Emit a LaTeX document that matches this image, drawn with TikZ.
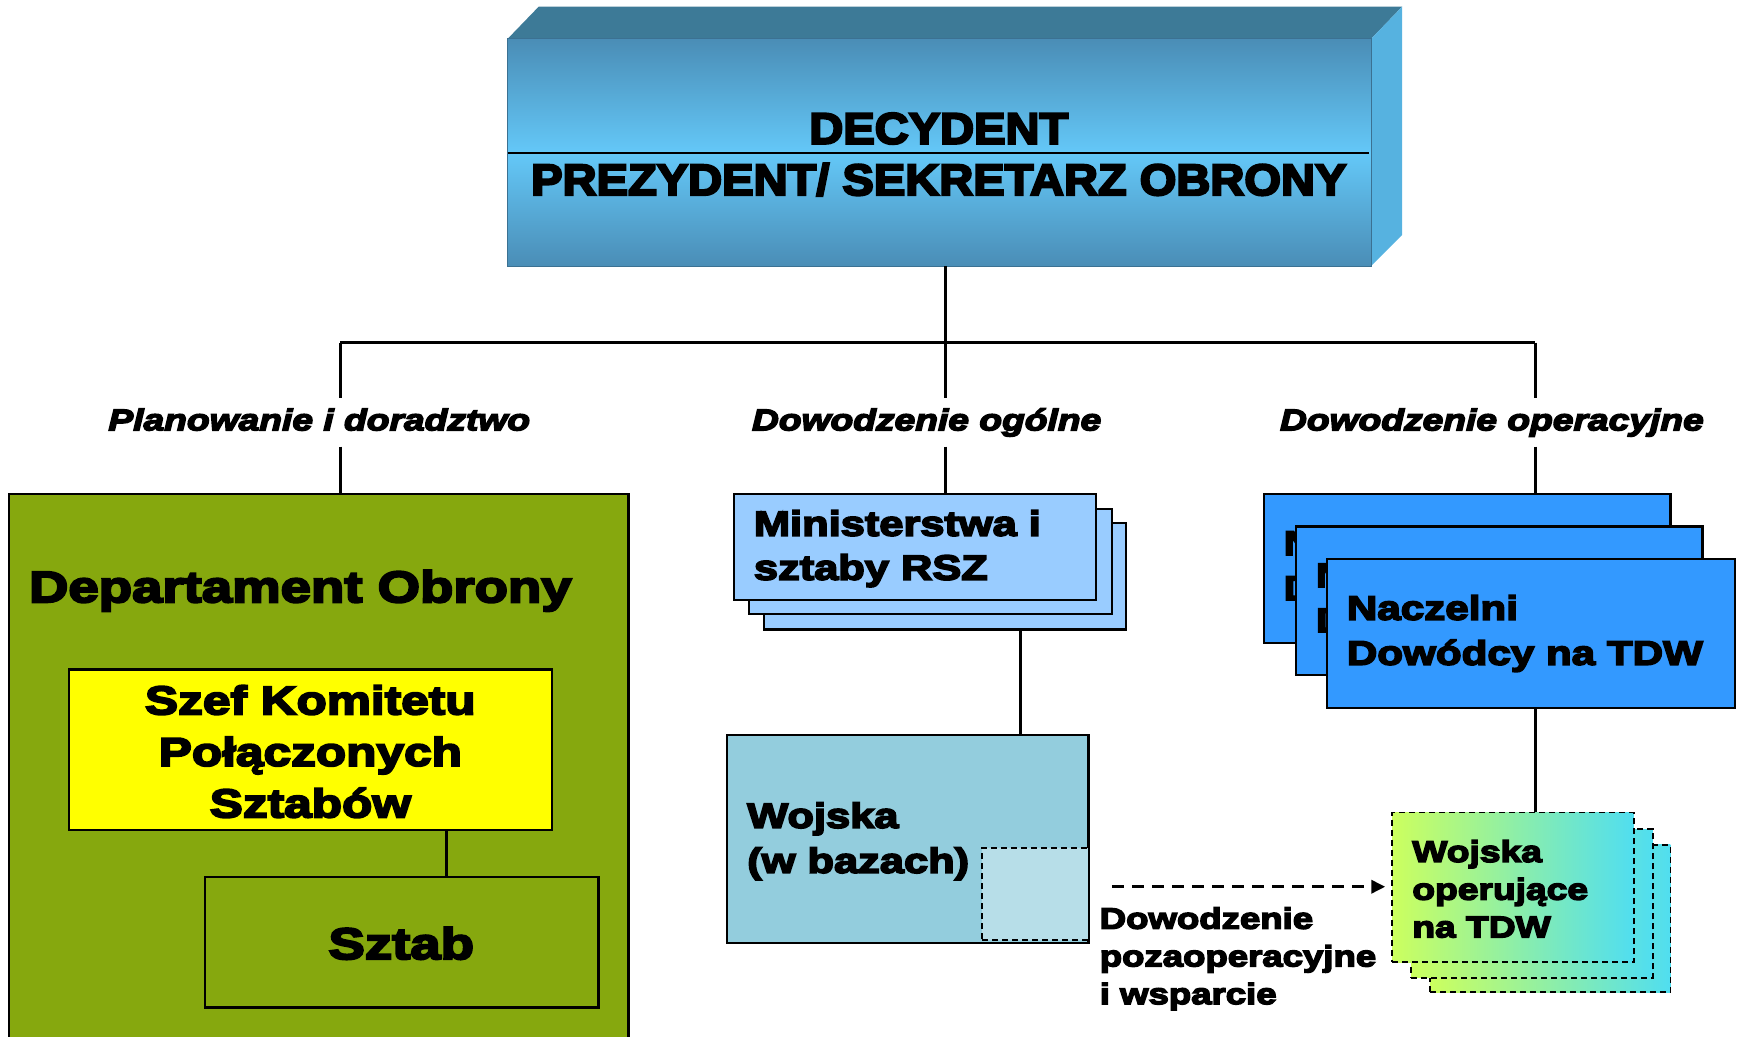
\documentclass[tikz,border=0pt]{standalone}
\usepackage{fontspec}
\setmainfont{Liberation Sans}
\newfontfamily\blk{Liberation Sans}[FakeStretch=1.24, BoldFeatures={FakeBold=5}, BoldItalicFeatures={FakeBold=5}]
\newfontfamily\cnd{Liberation Sans}[FakeStretch=1.07, BoldFeatures={FakeBold=5}]
\usetikzlibrary{fit,arrows.meta}
\definecolor{topface}{HTML}{3D7A97}
\definecolor{frontdark}{HTML}{4A8DB6}
\definecolor{frontlight}{HTML}{64C8F8}
\definecolor{sideface}{HTML}{56B2E0}
\definecolor{deptgreen}{HTML}{86A80E}
\definecolor{szefyellow}{HTML}{FFFF00}
\definecolor{minblue}{HTML}{99CCFF}
\definecolor{wojblue}{HTML}{93CDDD}
\definecolor{wojinner}{HTML}{B7DEE8}
\definecolor{naczblue}{HTML}{3399FF}
\definecolor{opleft}{HTML}{CCFF5E}
\definecolor{opright}{HTML}{50DEF0}
\begin{document}
\begin{tikzpicture}[x=1.1084pt,y=-1.1084pt,
  box/.style={draw=black, line width=2.2pt, inner sep=0pt},
  opbox/.style={draw=black, line width=1.8pt, dash pattern=on 6pt off 4pt, inner sep=0pt, left color=opleft, right color=opright},
  conn/.style={line width=3.2pt},
  lbl/.style={font=\blk\bfseries\itshape\fontsize{30}{36}\selectfont, inner xsep=0pt, inner ysep=10pt, text height=22pt, text depth=6pt},
  txt/.style={inner sep=0pt, align=left, anchor=west},
  ctxt/.style={inner sep=0pt, align=center}
]
\useasboundingbox (0,0) rectangle (1568,935);

% ---- top 3D box ----
\fill[topface] (458,35) -- (486,6) -- (1265,6) -- (1237,35) -- cycle;
\fill[sideface] (1237,35) -- (1265,6) -- (1265,212) -- (1237,240) -- cycle;
\shade[top color=frontdark, bottom color=frontlight] (458,35) rectangle (1237,138);
\shade[top color=frontlight, bottom color=frontdark] (458,138) rectangle (1237,240);
\node[inner sep=0pt, draw=frontdark!80!black, line width=0.8pt, fit={(458,35)(1237,240)}] (dec) {};
\draw[line width=1.8pt] (458,138) -- (1235,138);
\node[ctxt, font=\cnd\bfseries\fontsize{44}{50}\selectfont] (decT) at (847,116) {DECYDENT};
\node[ctxt, font=\cnd\bfseries\fontsize{44}{50}\selectfont] (prezT) at (847,162) {PREZYDENT/ SEKRETARZ OBRONY};

% ---- connectors, junctions ----
\coordinate (j) at (853,309);
\coordinate (jl) at (307,309);
\coordinate (jr) at (1385,309);
\draw[conn] (dec.south -| j) -- (j);
\draw[conn] (jl) -- (jr);
\node[lbl] (l1) at (288,381) {Planowanie i doradztwo};
\node[lbl] (l2) at (836,381) {Dowodzenie ogólne};
\node[lbl] (l3) at (1346,381) {Dowodzenie operacyjne};

% ---- left: Departament Obrony ----
\node[box, fill=deptgreen, fit={(8,446)(567,960)}] (dep) {};
\node[txt, font=\blk\bfseries\fontsize{44}{50}\selectfont] (depT) at (26,533) {Departament Obrony};
\node[box, fill=szefyellow, fit={(62,604)(498,749)}] (szef) {};
\node[ctxt, font=\blk\bfseries\fontsize{40}{51.5}\selectfont] (szefT) at (280,678) {Szef Komitetu\\Połączonych\\Sztabów};
\node[box, fit={(185,791)(540,909)}] (sztab) {};
\node[ctxt, font=\blk\bfseries\fontsize{44}{50}\selectfont] (sztabT) at (362,851) {Sztab};
\coordinate (cs) at (403,770);
\draw[conn] (szef.south -| cs) -- (sztab.north -| cs);

% ---- middle: Ministerstwa ----
\node[box, fill=minblue, fit={(689,472)(1016,568)}] (min3) {};
\node[box, fill=minblue, fit={(676,459)(1003,554)}] (min2) {};
\node[box, fill=minblue, fit={(662,446)(989,541)}] (min1) {};
\node[txt, font=\blk\bfseries\fontsize{35}{44}\selectfont] (minT) at (680,495) {Ministerstwa i\\sztaby RSZ};

\node[box, fill=wojblue, fit={(656,663)(982,851)}] (woj) {};
\node[inner sep=0pt, fill=wojinner, draw=black, line width=1.6pt, dash pattern=on 6pt off 4pt, fit={(886,765)(982,848)}] (wojin) {};
\node[txt, font=\blk\bfseries\fontsize{35}{45}\selectfont] (wojT) at (674,759) {Wojska\\(w bazach)};
\coordinate (cm) at (921,600);
\draw[conn] (min3.south -| cm) -- (woj.north -| cm);

% ---- right: Naczelni ----
\node[box, fill=naczblue, fit={(1140,446)(1507,580)}] (n3) {};
\node[txt, font=\blk\bfseries\fontsize{34}{45}\selectfont] (n3T) at ([xshift=21pt]n3.west) {Naczelni\\Dowódcy na TDW};
\node[box, fill=naczblue, fit={(1169,475)(1536,609)}] (n2) {};
\node[txt, font=\blk\bfseries\fontsize{34}{45}\selectfont] (n2T) at ([xshift=21pt]n2.west) {Naczelni\\Dowódcy na TDW};
\node[box, fill=naczblue, fit={(1197,504)(1565,639)}] (n1) {};
\node[txt, font=\blk\bfseries\fontsize{34}{45}\selectfont] (n1T) at ([xshift=21pt]n1.west) {Naczelni\\Dowódcy na TDW};

\node[opbox, fit={(1290,762)(1507,895)}] (op3) {};
\node[opbox, fit={(1273,748)(1491,882)}] (op2) {};
\node[opbox, fit={(1256,733)(1474,868)}] (op1) {};
\node[txt, font=\blk\bfseries\fontsize{30}{37.7}\selectfont] (opT) at (1274,802) {Wojska\\operujące\\na TDW};

% ---- label connectors ----
\draw[conn] (jl) -- (l1.north -| jl);
\draw[conn] (l1.south -| jl) -- (dep.north -| jl);
\draw[conn] (j) -- (l2.north -| j);
\draw[conn] (l2.south -| j) -- (min1.north -| j);
\draw[conn] (jr) -- (l3.north -| jr);
\draw[conn] (l3.south -| jr) -- (n3.north -| jr);
\draw[conn] (n1.south -| jr) -- (op1.north -| jr);

% ---- dashed arrow ----
\coordinate (da) at (1003,800);
\draw[line width=3.4pt, dash pattern=on 12pt off 8pt, -{Triangle[length=14pt,width=13pt]}] (da) -- ([xshift=-6pt]op1.west |- da);
\node[txt, font=\blk\bfseries\fontsize{29.5}{37.7}\selectfont] (poza) at (992,865) {Dowodzenie\\pozaoperacyjne\\i wsparcie};
\end{tikzpicture}
\end{document}
